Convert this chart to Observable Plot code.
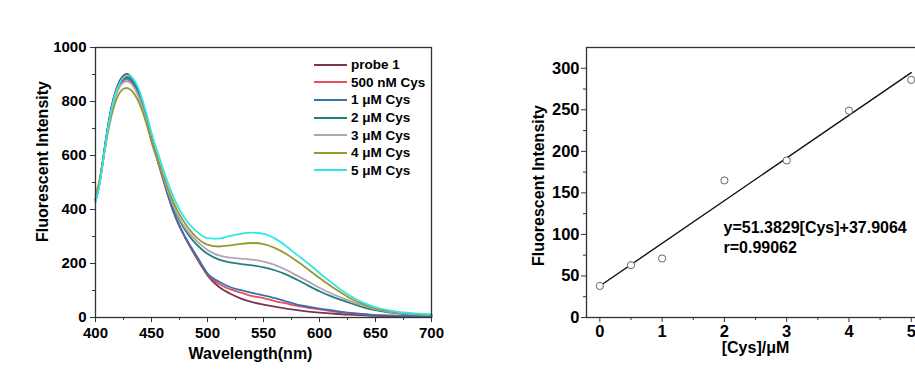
<!DOCTYPE html>
<html>
<head>
<meta charset="utf-8">
<script src="https://cdn.jsdelivr.net/npm/d3@7"></script>
<script src="https://cdn.jsdelivr.net/npm/@observablehq/plot@0.6"></script>
<style>
  html, body { margin: 0; padding: 0; background: #fff; }
  body { width: 915px; height: 374px; overflow: hidden; position: relative; font-family: "Liberation Sans", Arial, sans-serif; }
  #left { position: absolute; left: 0; top: 0; width: 460px; height: 374px; }
  #right { position: absolute; left: 460px; top: 0; width: 480px; height: 374px; }
  #left svg, #right svg { max-width: none !important; }
  #legend { position: absolute; left: 314px; top: 56px; font-weight: bold; font-size: 13.5px; color: #000; }
  #legend .row { height: 17.6px; display: flex; align-items: center; white-space: nowrap; }
  #legend .sw { width: 33px; height: 2px; margin-right: 4px; }
</style>
</head>
<body>
<div id="left"></div>
<div id="right"></div>
<div id="legend"></div>
<script>
// ---------- Left chart: emission spectra ----------
const wavelengths = [400,403,406,410,414,418,422,426,428,430,434,438,442,446,450,455,460,465,470,475,480,485,490,495,500,510,520,530,540,550,560,570,580,590,600,610,620,630,640,650,660,670,680,690,700];

const probe1   = [435,485,565,680,775,840,880,899,902,898,878,842,790,728,660,590,520,450,388,338,296,258,222,188,156,114,89,70,57,48,40,33,27,22,18,15,12,10,8,6,5,4,4,3,3];
const cys500nM = [438,485,560,670,762,825,862,880,882,878,860,826,778,718,652,585,516,448,387,338,297,260,226,193,160,125,105,92,79,72,61,52,43,36,30,24,19,15,12,9,8,7,6,5,5];
const cys1uM   = [430,480,560,675,770,835,874,893,895,892,873,838,787,726,658,590,520,450,388,339,299,263,230,195,163,133,113,101,91,82,72,60,48,40,33,27,21,16,12,9,7,6,5,5,5];
const cys2uM   = [440,488,565,675,768,830,868,886,888,885,867,834,785,725,660,594,528,462,405,360,324,295,272,252,236,215,204,198,193,186,175,160,140,118,97,79,64,50,37,27,20,15,12,10,9];
const cys3uM   = [442,488,562,668,758,820,857,873,875,872,855,823,776,718,655,592,528,464,410,366,332,306,285,266,250,230,222,218,214,207,195,177,155,133,110,90,73,57,43,31,23,17,13,11,10];
const cys4uM   = [455,498,565,660,742,800,835,849,850,847,832,803,762,710,652,593,533,475,424,382,348,320,298,281,270,263,267,273,276,272,258,236,208,178,146,117,90,66,48,34,25,19,15,12,11];
const cys5uM   = [428,478,555,670,765,832,872,893,897,896,882,852,805,748,684,618,555,495,443,400,366,340,320,304,294,292,302,310,314,310,293,265,232,200,165,132,100,74,53,38,28,21,17,14,12];

const seriesNames  = ["probe 1", "500 nM Cys", "1 μM Cys", "2 μM Cys", "3 μM Cys", "4 μM Cys", "5 μM Cys"];
const seriesValues = [probe1, cys500nM, cys1uM, cys2uM, cys3uM, cys4uM, cys5uM];
const seriesColors = ["#7a3552", "#e8505c", "#3b6fae", "#21807f", "#b3a3b3", "#999a2c", "#33e6e6"];

const leftXTicks = [400,450,500,550,600,650,700];
const leftXMinor = [425,475,525,575,625,675];
const leftYTicks = [0,200,400,600,800,1000];
const leftYMinor = [100,300,500,700,900];

// ---------- Right chart: calibration ----------
const concentrations = [0, 0.5, 1, 2, 3, 4, 5];
const intensities    = [38, 63, 71, 165, 189, 249, 286];
const fitSlope = 51.3829;
const fitIntercept = 37.9064;
const fitLabel = "y=51.3829[Cys]+37.9064\nr=0.99062";

const rightXTicks = [0,1,2,3,4,5];
const rightXMinor = [0.5,1.5,2.5,3.5,4.5];
const rightYTicks = [0,50,100,150,200,250,300];
const rightYMinor = [25,75,125,175,225,275];

// ---------- build tables ----------
const spectra = [];
seriesNames.forEach((name, i) => {
  wavelengths.forEach((w, j) => spectra.push({series: name, wl: w, v: seriesValues[i][j]}));
});
const calib = concentrations.map((c, i) => ({c, v: intensities[i]}));
const fitEnds = [concentrations[0], concentrations[concentrations.length - 1]].map(c => ({c, v: fitSlope * c + fitIntercept}));

const axisColor = "#333";
const fmt = d => String(d);
const baseStyle = {fontFamily: "'Liberation Sans', Arial, sans-serif", fontWeight: "bold", fontSize: "15px", color: "#000", background: "transparent", overflow: "visible", maxWidth: "none"};

const left = Plot.plot({
  width: 460, height: 374,
  marginLeft: 95, marginRight: 29, marginTop: 47, marginBottom: 57,
  style: baseStyle,
  x: {domain: [400, 700]},
  y: {domain: [0, 1000]},
  color: {domain: seriesNames, range: seriesColors},
  marks: [
    Plot.line(spectra, {x: "wl", y: "v", z: "series", stroke: "series", strokeWidth: 1.8, curve: "monotone-x"}),
    Plot.frame({stroke: axisColor, strokeWidth: 1.3}),
    Plot.axisX({ticks: leftXTicks, tickFormat: fmt, tickSize: 5, tickPadding: 5, stroke: axisColor, label: null, fill: "#000", fontSize: 15, fontWeight: "bold"}),
    Plot.axisX({ticks: leftXMinor, tickSize: 3, text: null, stroke: axisColor, label: null}),
    Plot.axisY({ticks: leftYTicks, tickFormat: fmt, tickSize: 5, tickPadding: 4, stroke: axisColor, label: null, fill: "#000", fontSize: 15, fontWeight: "bold"}),
    Plot.axisY({ticks: leftYMinor, tickSize: 3, text: null, stroke: axisColor, label: null}),
    Plot.text(["Fluorescent Intensity"], {text: d => d, frameAnchor: "left", textAnchor: "middle", lineAnchor: "middle", rotate: -90, dx: -53, dy: -21, fontSize: 16, fontWeight: "bold", fill: "#000"}),
    Plot.text(["Wavelength(nm)"], {text: d => d, frameAnchor: "bottom", textAnchor: "middle", lineAnchor: "middle", dx: -13, dy: 36, fontSize: 16, fontWeight: "bold", fill: "#000"})
  ]
});
document.getElementById("left").appendChild(left);

const right = Plot.plot({
  width: 480, height: 374,
  marginLeft: 126, marginRight: 10, marginTop: 47, marginBottom: 57,
  style: baseStyle,
  x: {domain: [-0.214, 5.309]},
  y: {domain: [0, 325]},
  marks: [
    Plot.line(fitEnds, {x: "c", y: "v", stroke: "#111", strokeWidth: 1.4}),
    Plot.dot(calib, {x: "c", y: "v", r: 3.6, stroke: "#666", fill: "#fff", strokeWidth: 1}),
    Plot.frame({stroke: axisColor, strokeWidth: 1.3}),
    Plot.axisX({ticks: rightXTicks, tickFormat: fmt, tickSize: 5, tickPadding: 3, stroke: axisColor, label: null, fill: "#000", fontSize: 16.5, fontWeight: "bold"}),
    Plot.axisX({ticks: rightXMinor, tickSize: 3, text: null, stroke: axisColor, label: null}),
    Plot.axisY({ticks: rightYTicks, tickFormat: fmt, tickSize: 5, tickPadding: 2, stroke: axisColor, label: null, fill: "#000", fontSize: 16.5, fontWeight: "bold"}),
    Plot.axisY({ticks: rightYMinor, tickSize: 3, text: null, stroke: axisColor, label: null}),
    Plot.text([fitLabel], {text: d => d, frameAnchor: "top-left", textAnchor: "start", lineAnchor: "top", lineHeight: 1.25, dx: 137, dy: 171, fontSize: 16, fontWeight: "bold", fill: "#000"}),
    Plot.text(["Fluorescent Intensity"], {text: d => d, frameAnchor: "left", textAnchor: "middle", lineAnchor: "middle", rotate: -90, dx: -48, dy: 3, fontSize: 16, fontWeight: "bold", fill: "#000"}),
    Plot.text(["[Cys]/μM"], {text: d => d, frameAnchor: "bottom", textAnchor: "middle", lineAnchor: "middle", dx: -3, dy: 30, fontSize: 16, fontWeight: "bold", fill: "#000"})
  ]
});
document.getElementById("right").appendChild(right);

// ---------- legend ----------
const legend = document.getElementById("legend");
seriesNames.forEach((name, i) => {
  const row = document.createElement("div");
  row.className = "row";
  const sw = document.createElement("div");
  sw.className = "sw";
  sw.style.background = seriesColors[i];
  const label = document.createElement("span");
  label.textContent = name;
  row.appendChild(sw);
  row.appendChild(label);
  legend.appendChild(row);
});
</script>
</body>
</html>
